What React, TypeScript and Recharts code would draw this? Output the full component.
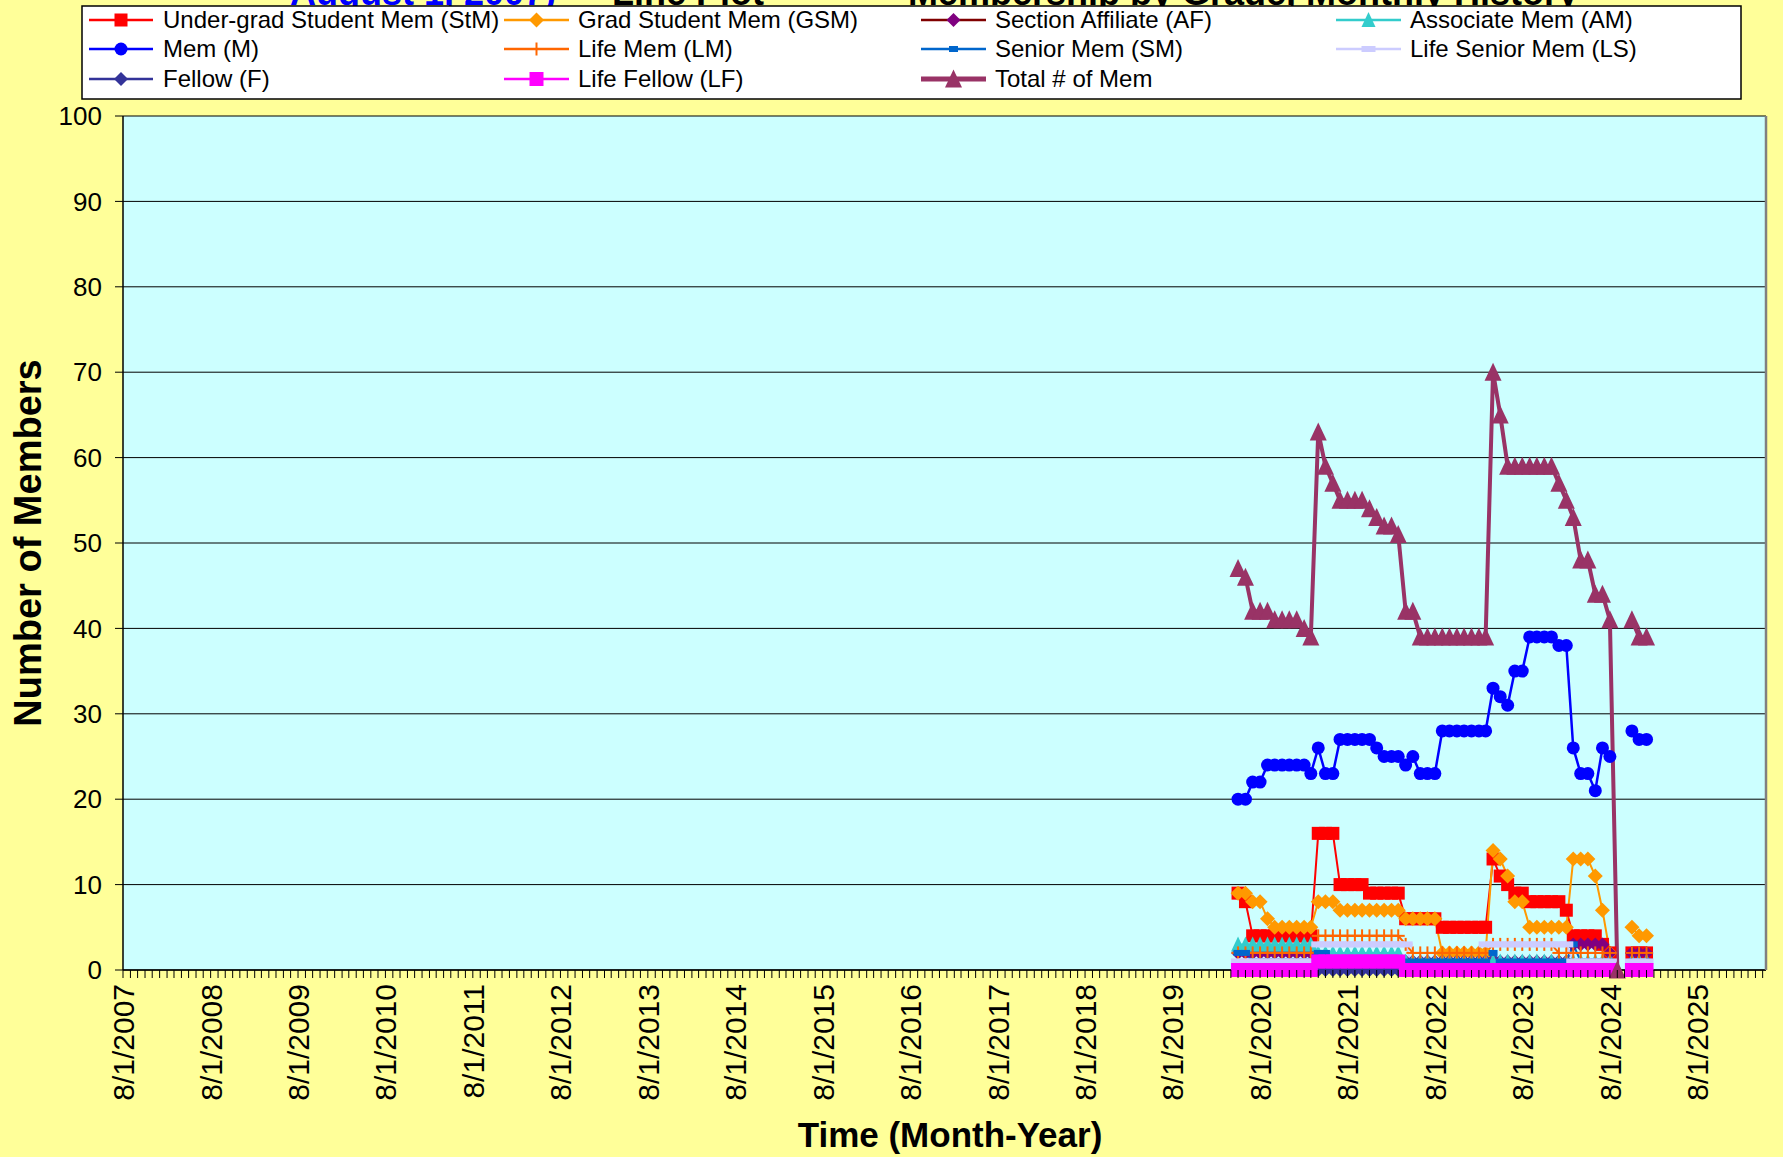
import React from 'react'
import { LineChart, Line, XAxis, YAxis, CartesianGrid } from 'recharts'

const W = 1783
const H = 1157
const FONT = '"Liberation Sans", Arial, sans-serif'

// month of each reading
const months = [
  '2020-05', '2020-06', '2020-07', '2020-08', '2020-09', '2020-10', '2020-11', '2020-12',
  '2021-01', '2021-02', '2021-03', '2021-04', '2021-05', '2021-06', '2021-07', '2021-08', '2021-09', '2021-10', '2021-11', '2021-12',
  '2022-01', '2022-02', '2022-03', '2022-04', '2022-05', '2022-06', '2022-07', '2022-08', '2022-09', '2022-10', '2022-11', '2022-12',
  '2023-01', '2023-02', '2023-03', '2023-04', '2023-05', '2023-06', '2023-07', '2023-08', '2023-09', '2023-10', '2023-11', '2023-12',
  '2024-01', '2024-02', '2024-03', '2024-04', '2024-05', '2024-06', '2024-07', '2024-08', '2024-09', '2024-10', '2024-11', '2024-12',
  '2025-01',
]

const stm = [
  9, 8, 4, 4, 4, 4, 4, 4, 4, 4, 4,
  16, 16, 16, 10, 10, 10, 10, 9, 9, 9, 9, 9,
  6, 6, 6, 6, 6, 5, 5, 5, 5, 5, 5, 5,
  13, 11, 10, 9, 9, 8, 8, 8, 8, 8, 7, 4, 4, 4, 4, 3, 2,
  null, null, 2, 2, 2,
]
const gsm = [
  9, 9, 8, 8, 6, 5, 5, 5, 5, 5, 5,
  8, 8, 8, 7, 7, 7, 7, 7, 7, 7, 7, 7,
  6, 6, 6, 6, 6, 2, 2, 2, 2, 2, 2, 2,
  14, 13, 11, 8, 8, 5, 5, 5, 5, 5, 5, 13, 13, 13, 11, 7, 2,
  null, null, 5, 4, 4,
]
const af = [
  2, 2, 2, 2, 2, 2, 2, 2, 2, 2, 2,
  1, 1, 1, 1, 1, 1, 1, 1, 1, 1, 1, 1,
  1, 1, 1, 1, 1, 1, 1, 1, 1, 1, 1, 1,
  1, 1, 1, 1, 1, 1, 1, 1, 1, 1, 1, 3, 3, 3, 3, 3, 2,
  null, null, 2, 2, 2,
]
const am = [
  3, 3, 3, 3, 3, 3, 3, 3, 3, 3, 3,
  2, 2, 2, 2, 2, 2, 2, 2, 2, 2, 2, 2,
  1, 1, 1, 1, 1, 1, 1, 1, 1, 1, 1, 1,
  1, 1, 1, 1, 1, 1, 1, 1, 1, 1, 1, 1, 1, 1, 1, 1, 1,
  null, null, 1, 1, 1,
]
const mem = [
  20, 20, 22, 22, 24, 24, 24, 24, 24, 24, 23,
  26, 23, 23, 27, 27, 27, 27, 27, 26, 25, 25, 25,
  24, 25, 23, 23, 23, 28, 28, 28, 28, 28, 28, 28,
  33, 32, 31, 35, 35, 39, 39, 39, 39, 38, 38, 26, 23, 23, 21, 26, 25,
  null, null, 28, 27, 27,
]
const lm = [
  2, 2, 2, 2, 2, 2, 2, 2, 2, 2, 2,
  4, 4, 4, 4, 4, 4, 4, 4, 4, 4, 4, 4,
  3, 2, 2, 2, 2, 2, 2, 2, 2, 2, 2, 2,
  3, 3, 3, 3, 3, 3, 3, 3, 3, 2, 2, 2, 2, 2, 2, 2, 2,
  null, null, 2, 2, 2,
]
const sm = [
  2, 2, 1, 1, 1, 1, 1, 1, 1, 1, 1,
  2, 2, 1, 1, 1, 1, 1, 1, 1, 1, 1, 1,
  1, 1, 1, 1, 1, 1, 1, 1, 1, 1, 1, 1,
  2, 1, 1, 1, 1, 1, 1, 1, 1, 1, 1, 3, 1, 1, 1, 1, 1,
  null, null, 1, 1, 1,
]
const ls = [
  1, 1, 1, 1, 1, 1, 1, 1, 1, 1, 1,
  3, 3, 3, 3, 3, 3, 3, 3, 3, 3, 3, 3,
  3, 0, 0, 0, 0, 0, 0, 0, 0, 0, 0, 3,
  3, 3, 3, 3, 3, 3, 3, 3, 3, 3, 3, 1, 1, 1, 1, 1, 1,
  null, null, 1, 1, 1,
]
const fel = [
  0, 0, 0, 0, 0, 0, 0, 0, 0, 0, 0,
  0, 0, 0, 0, 0, 0, 0, 0, 0, 0, 0, 0,
  0, 0, 0, 0, 0, 0, 0, 0, 0, 0, 0, 0,
  0, 0, 0, 0, 0, 0, 0, 0, 0, 0, 0, 0, 0, 0, 0, 0, 0,
  null, null, 0, 0, 0,
]
const lf = [
  0, 0, 0, 0, 0, 0, 0, 0, 0, 0, 0,
  1, 1, 1, 1, 1, 1, 1, 1, 1, 1, 1, 1,
  0, 0, 0, 0, 0, 0, 0, 0, 0, 0, 0, 0,
  0, 0, 0, 0, 0, 0, 0, 0, 0, 0, 0, 0, 0, 0, 0, 0, 0,
  null, null, 0, 0, 0,
]
const total = [
  47, 46, 42, 42, 42, 41, 41, 41, 41, 40, 39,
  63, 59, 57, 55, 55, 55, 55, 54, 53, 52, 52, 51,
  42, 42, 39, 39, 39, 39, 39, 39, 39, 39, 39, 39,
  70, 65, 59, 59, 59, 59, 59, 59, 59, 57, 55, 53, 48, 48, 44, 44, 41,
  0, null, 41, 39, 39,
]

const yTicks = [0, 10, 20, 30, 40, 50, 60, 70, 80, 90, 100]
const xLabels = [
  '8/1/2007', '8/1/2008', '8/1/2009', '8/1/2010', '8/1/2011', '8/1/2012', '8/1/2013',
  '8/1/2014', '8/1/2015', '8/1/2016', '8/1/2017', '8/1/2018', '8/1/2019', '8/1/2020',
  '8/1/2021', '8/1/2022', '8/1/2023', '8/1/2024', '8/1/2025',
]

const X_START = Date.UTC(2007, 7, 1)
const X_END = Date.UTC(2026, 4, 15)

// monthly minor ticks along the date axis
const monthTicks: number[] = []
for (let i = 0; ; i++) {
  const t = Date.UTC(2007, 7 + i, 1)
  if (t > X_END) break
  monthTicks.push(t)
}

const toTime = (m: string) => {
  const [y, mo] = m.split('-').map(Number)
  return Date.UTC(y, mo - 1, 1)
}

const data = months.map((m, i) => ({
  t: toTime(m),
  stm: stm[i], gsm: gsm[i], af: af[i], am: am[i], mem: mem[i], lm: lm[i],
  sm: sm[i], ls: ls[i], fel: fel[i], lf: lf[i], total: total[i],
}))

type Shape = 'square' | 'diamond' | 'triangle' | 'circle' | 'plus' | 'dash'

interface Series {
  key: string
  name: string
  line: string
  marker: string
  shape: Shape
  size: number
  width: number
}

const series: Series[] = [
  { key: 'stm', name: 'Under-grad Student Mem (StM)', line: '#FF0000', marker: '#FF0000', shape: 'square', size: 13, width: 2 },
  { key: 'gsm', name: 'Grad Student Mem (GSM)', line: '#FF9900', marker: '#FF9900', shape: 'diamond', size: 15, width: 2 },
  { key: 'af', name: 'Section Affiliate (AF)', line: '#800000', marker: '#800080', shape: 'diamond', size: 14, width: 2 },
  { key: 'am', name: 'Associate Mem (AM)', line: '#33CCCC', marker: '#33CCCC', shape: 'triangle', size: 14, width: 2 },
  { key: 'mem', name: 'Mem (M)', line: '#0000FF', marker: '#0000FF', shape: 'circle', size: 13, width: 2.5 },
  { key: 'lm', name: 'Life Mem (LM)', line: '#FF6600', marker: '#FF6600', shape: 'plus', size: 13, width: 2 },
  { key: 'sm', name: 'Senior Mem (SM)', line: '#0066CC', marker: '#0066CC', shape: 'dash', size: 9, width: 2 },
  { key: 'ls', name: 'Life Senior Mem (LS)', line: '#CCCCFF', marker: '#CCCCFF', shape: 'dash', size: 14, width: 2 },
  { key: 'fel', name: 'Fellow (F)', line: '#333399', marker: '#333399', shape: 'diamond', size: 14, width: 2 },
  { key: 'lf', name: 'Life Fellow (LF)', line: '#FF00FF', marker: '#FF00FF', shape: 'square', size: 14, width: 2 },
  { key: 'total', name: 'Total # of Mem', line: '#993366', marker: '#993366', shape: 'triangle', size: 17, width: 4 },
]

function drawMarker(shape: Shape, cx: number, cy: number, s: number, color: string) {
  const h = s / 2
  switch (shape) {
    case 'square':
      return <rect x={cx - h} y={cy - h} width={s} height={s} fill={color} />
    case 'diamond':
      return <polygon points={`${cx},${cy - h} ${cx + h},${cy} ${cx},${cy + h} ${cx - h},${cy}`} fill={color} />
    case 'triangle':
      return <polygon points={`${cx},${cy - h - 1} ${cx + h},${cy + h} ${cx - h},${cy + h}`} fill={color} />
    case 'circle':
      return <circle cx={cx} cy={cy} r={h} fill={color} />
    case 'plus':
      return (
        <g stroke={color} strokeWidth={2}>
          <line x1={cx - h} y1={cy} x2={cx + h} y2={cy} />
          <line x1={cx} y1={cy - h} x2={cx} y2={cy + h} />
        </g>
      )
    default:
      return <rect x={cx - h} y={cy - 3} width={s} height={6} fill={color} />
  }
}

const makeDot = (s: Series) => (props: any) => {
  const { cx, cy, index, value } = props
  if (cx == null || cy == null || value == null || Number.isNaN(cy)) return <g key={`e${index}`} />
  return <g key={`d${index}`}>{drawMarker(s.shape, cx, cy, s.size, s.marker)}</g>
}

function XTick(props: any) {
  const { x, y, payload, index } = props
  const d = new Date(payload.value)
  const isMajor = d.getUTCMonth() === 7
  const label = isMajor ? xLabels[d.getUTCFullYear() - 2007] : null
  return (
    <g key={`xt${index}`}>
      <line x1={x} y1={y} x2={x} y2={y + 8} stroke="#000" strokeWidth={1} />
      {label && (
        <text
          x={x + 11}
          y={y + 14}
          transform={`rotate(-90, ${x + 11}, ${y + 14})`}
          textAnchor="end"
          fontSize={30}
          fontFamily={FONT}
          fill="#000"
        >
          {label}
        </text>
      )}
    </g>
  )
}

const legendCols = [
  { x1: 89, x2: 153, tx: 163 },
  { x1: 504, x2: 569, tx: 578 },
  { x1: 921, x2: 986, tx: 995 },
  { x1: 1336, x2: 1401, tx: 1410 },
]
const legendRows = [20, 49, 79]

function Overlay() {
  return (
    <svg width={W} height={H} style={{ position: 'absolute', left: 0, top: 0, pointerEvents: 'none' }}>
      {/* second title line, mostly hidden above the page edge */}
      <text x={290} y={5} fontSize={36} fontWeight="bold" fontFamily={FONT} fill="#000">
        <tspan fill="#0000FF">August 1, 2007)</tspan>
        <tspan> — Line Plot</tspan>
      </text>
      <text x={1578} y={5} textAnchor="end" fontSize={36} fontWeight="bold" fontFamily={FONT} fill="#000">
        Membership by Grade, Monthly History
      </text>

      {/* legend */}
      <rect x={82} y={6} width={1659} height={93} fill="#FFFFFF" stroke="#000" strokeWidth={1.5} />
      {series.map((s, i) => {
        const col = legendCols[i % 4]
        const cy = legendRows[Math.floor(i / 4)]
        const cx = (col.x1 + col.x2) / 2
        return (
          <g key={s.key}>
            <line x1={col.x1} y1={cy} x2={col.x2} y2={cy} stroke={s.line} strokeWidth={s.key === 'total' ? 5 : 2.5} />
            {drawMarker(s.shape, cx, cy, s.size, s.marker)}
            <text x={col.tx} y={cy + 8} fontSize={24} fontFamily={FONT} fill="#000">
              {s.name}
            </text>
          </g>
        )
      })}

      {/* plot area right border */}
      <line x1={1766} y1={116} x2={1766} y2={970} stroke="#808080" strokeWidth={2.5} />

      {/* axis titles */}
      <text
        x={41}
        y={543}
        transform="rotate(-90, 41, 543)"
        textAnchor="middle"
        fontSize={38}
        fontWeight="bold"
        fontFamily={FONT}
        fill="#000"
      >
        Number of Members
      </text>
      <text x={950} y={1147} textAnchor="middle" fontSize={35} fontWeight="bold" fontFamily={FONT} fill="#000">
        Time (Month-Year)
      </text>
    </svg>
  )
}

export default function App() {
  return (
    <div style={{ position: 'absolute', left: 0, top: 0, width: W, height: H, background: '#FFFF99', overflow: 'hidden' }}>
      <LineChart width={W} height={H} data={data} margin={{ top: 116, right: 17, bottom: 0, left: 0 }}>
        <CartesianGrid vertical={false} stroke="#000" strokeWidth={1} fill="#CCFFFF" fillOpacity={1} />
        <XAxis
          dataKey="t"
          type="number"
          domain={[X_START, X_END]}
          ticks={monthTicks}
          interval={0}
          tick={(p: any) => <XTick {...p} />}
          tickLine={false}
          tickSize={0}
          tickMargin={0}
          height={187}
          axisLine={{ stroke: '#000', strokeWidth: 1.5 }}
          allowDataOverflow
        />
        <YAxis
          type="number"
          domain={[0, 100]}
          ticks={yTicks}
          interval={0}
          width={123}
          tick={{ fill: '#000', fontSize: 26, fontFamily: FONT }}
          tickLine={{ stroke: '#000' }}
          tickSize={8}
          tickMargin={13}
          axisLine={{ stroke: '#000', strokeWidth: 1.5 }}
        />
        {series.map((s) => (
          <Line
            key={s.key}
            dataKey={s.key}
            name={s.name}
            type="linear"
            stroke={s.line}
            strokeWidth={s.width}
            dot={makeDot(s)}
            activeDot={false}
            connectNulls={false}
            isAnimationActive={false}
          />
        ))}
      </LineChart>
      <Overlay />
    </div>
  )
}
